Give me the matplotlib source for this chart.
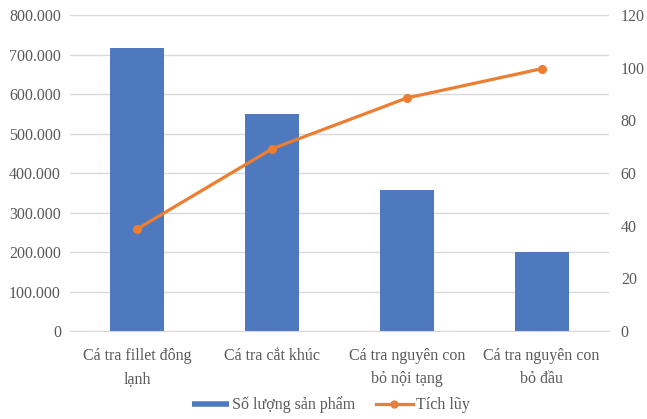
import matplotlib

matplotlib.use("Agg")
import matplotlib.pyplot as plt
from matplotlib.lines import Line2D
from matplotlib.ticker import FuncFormatter

# ── Data ─────────────────────────────────────────────────────────────────────
categories = [
    "Cá tra fillet đông\nlạnh",
    "Cá tra cắt khúc",
    "Cá tra nguyên con\nbỏ nội tạng",
    "Cá tra nguyên con\nbỏ đầu",
]
quantities = [717000, 549000, 357000, 200000]
cumulative = [38.8, 69.2, 88.5, 99.6]

BLUE = "#4F79BE"
ORANGE = "#ED7D31"
GRID = "#D9D9D9"
TEXT = "#595959"

plt.rcParams["font.family"] = ["Liberation Serif", "DejaVu Serif"]

fig = plt.figure(figsize=(6.47, 4.19), dpi=100)
ax = fig.add_axes([70 / 647, 1 - 331 / 419, 539 / 647, 316 / 419])
x = range(len(categories))

ax.bar(x, quantities, width=0.4, color=BLUE, zorder=2)
ax.set_xlim(-0.5, len(categories) - 0.5)
ax.set_ylim(0, 800000)
ax.set_yticks(range(0, 800001, 100000))
ax.yaxis.set_major_formatter(
    FuncFormatter(lambda v, _: f"{int(v):,}".replace(",", "."))
)
ax.grid(axis="y", color=GRID, linewidth=1, zorder=0)
for side in ["top", "right", "left"]:
    ax.spines[side].set_visible(False)
ax.spines["bottom"].set_color(GRID)
ax.tick_params(axis="both", length=0, labelsize=11.5, colors=TEXT)
ax.tick_params(axis="y", pad=6.5)
ax.set_xticks(list(x))
ax.set_xticklabels(categories, fontsize=11.5, color=TEXT, linespacing=1.6)
ax.tick_params(axis="x", pad=12)

ax2 = ax.twinx()
ax2.plot(x, cumulative, color=ORANGE, linewidth=2.3, marker="o",
         markersize=5.5, zorder=3)
ax2.set_ylim(0, 120)
ax2.set_yticks(range(0, 121, 20))
for side in ["top", "right", "left", "bottom"]:
    ax2.spines[side].set_visible(False)
ax2.tick_params(axis="y", length=0, labelsize=11.5, colors=TEXT, pad=8.5)

handles = [
    Line2D([0], [0], color=BLUE, linewidth=4, solid_capstyle="butt",
           label="Số lượng sản phẩm"),
    Line2D([0], [0], color=ORANGE, linewidth=2.3, marker="o", markersize=5,
           label="Tích lũy"),
]
fig.legend(handles=handles, loc="center", bbox_to_anchor=(331 / 647, 1 - 405 / 419),
           ncol=2, frameon=False, fontsize=11.5, labelcolor=TEXT,
           handlelength=2.3, columnspacing=1.3, handletextpad=0.2)

fig.savefig("out.png", dpi=100, facecolor="white")
